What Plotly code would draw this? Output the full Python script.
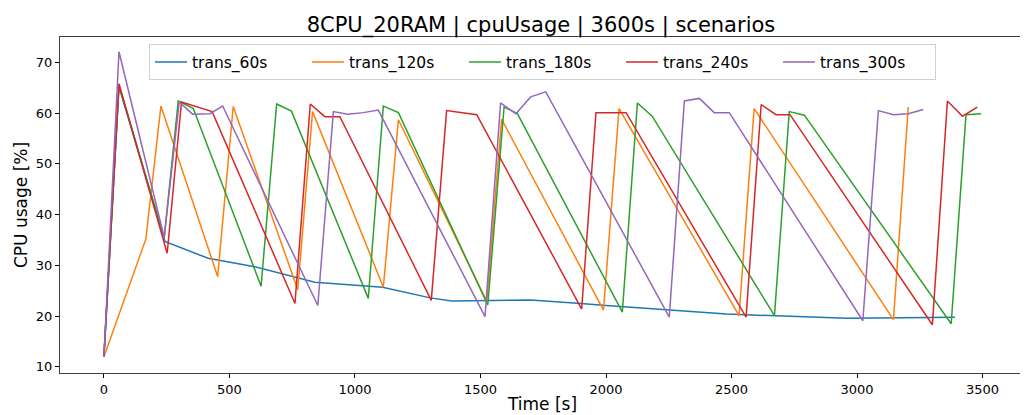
import plotly.graph_objects as go

# ---- data ----
t60 = [0, 60, 243, 415, 595, 780, 840, 1110, 1300, 1385, 1560, 1700, 1900, 2000, 2480, 2650, 2960, 3390]
v60 = [12, 65.2, 34.7, 31.4, 29.8, 27.5, 26.7, 25.7, 23.6, 23.0, 23.1, 23.2, 22.5, 22.1, 20.4, 20.1, 19.6, 19.8]

t120 = [0, 167, 227, 453, 515, 772, 831, 1113, 1173, 1525, 1584, 1990, 2052, 2530, 2590, 3145, 3204]
v120 = [12, 35.2, 61.4, 27.8, 61.3, 25.2, 60.3, 25.7, 58.7, 22.9, 58.8, 21.2, 60.9, 20.1, 60.9, 19.3, 61.2]

t180 = [0, 60, 240, 296, 356, 626, 688, 747, 1053, 1113, 1173, 1529, 1594, 1647, 2065, 2125, 2184, 2671, 2730, 2790, 3375, 3434, 3494]
v180 = [12, 65.5, 35.4, 62.4, 60.9, 25.9, 61.8, 60.4, 23.5, 61.4, 60.1, 22.2, 61.2, 59.9, 20.8, 62.0, 59.4, 20.1, 60.3, 59.6, 18.5, 59.7, 59.9]

t240 = [0, 60, 252, 309, 431, 761, 822, 880, 940, 1304, 1365, 1485, 1903, 1960, 2080, 2558, 2618, 2677, 2733, 3300, 3360, 3420, 3479]
v240 = [12, 65.8, 32.4, 62.2, 60.3, 22.5, 61.8, 59.3, 59.3, 23.1, 60.5, 59.7, 21.4, 60.1, 60.1, 19.8, 61.7, 59.7, 59.7, 18.3, 62.4, 59.4, 61.2]

t300 = [0, 60, 240, 300, 353, 422, 473, 852, 914, 971, 1033, 1093, 1518, 1580, 1641, 1700, 1760, 2252, 2312, 2372, 2431, 2491, 3023, 3085, 3145, 3204, 3264]
v300 = [12, 72.1, 35.5, 62.2, 59.8, 59.9, 61.4, 22.1, 60.3, 59.8, 60.1, 60.6, 19.9, 62.0, 59.9, 63.2, 64.2, 19.8, 62.4, 62.9, 60.1, 60.1, 19.1, 60.5, 59.7, 59.9, 60.7]

series = [
    ("trans_60s", t60, v60, "#1f77b4"),
    ("trans_120s", t120, v120, "#ff7f0e"),
    ("trans_180s", t180, v180, "#2ca02c"),
    ("trans_240s", t240, v240, "#d62728"),
    ("trans_300s", t300, v300, "#9467bd"),
]

x_ticks = [0, 500, 1000, 1500, 2000, 2500, 3000, 3500]
y_ticks = [10, 20, 30, 40, 50, 60, 70]

fig = go.Figure()
for name, t, v, c in series:
    fig.add_trace(go.Scatter(x=t, y=v, mode="lines", name=name,
                             line=dict(color=c, width=1.5)))

font = "DejaVu Sans"
fig.update_layout(
    width=1020, height=407,
    margin=dict(l=52, r=3, t=29, b=42),
    paper_bgcolor="white", plot_bgcolor="white",
    font=dict(family=font, color="black", size=13),
    title=dict(text="8CPU_20RAM | cpuUsage | 3600s | scenarios",
               x=0.5225, xanchor="center", y=0.978, yanchor="top",
               font=dict(size=21, family=font)),
    showlegend=True,
    legend=dict(orientation="h", x=0.5, xanchor="center", y=0.978, yanchor="top",
                bgcolor="rgba(255,255,255,0.8)", bordercolor="#d0d0d0", borderwidth=1,
                font=dict(size=15.5, family=font), itemwidth=32,
                entrywidth=110, entrywidthmode="pixels"),
)
fig.update_xaxes(range=[-175, 3669], tickvals=x_ticks, ticks="outside", ticklen=4,
                 tickcolor="black", showgrid=False, zeroline=False,
                 showline=True, linecolor="#404040", linewidth=1, mirror=True,
                 title=dict(text="Time [s]", font=dict(size=17, family=font), standoff=2),
                 tickfont=dict(size=13))
fig.update_yaxes(range=[8.8, 75], tickvals=y_ticks, ticks="outside", ticklen=4,
                 tickcolor="black", showgrid=False, zeroline=False,
                 showline=True, linecolor="#404040", linewidth=1, mirror=True,
                 title=dict(text="CPU usage [%]", font=dict(size=17, family=font), standoff=3),
                 tickfont=dict(size=13))

fig.write_html("out.html")
